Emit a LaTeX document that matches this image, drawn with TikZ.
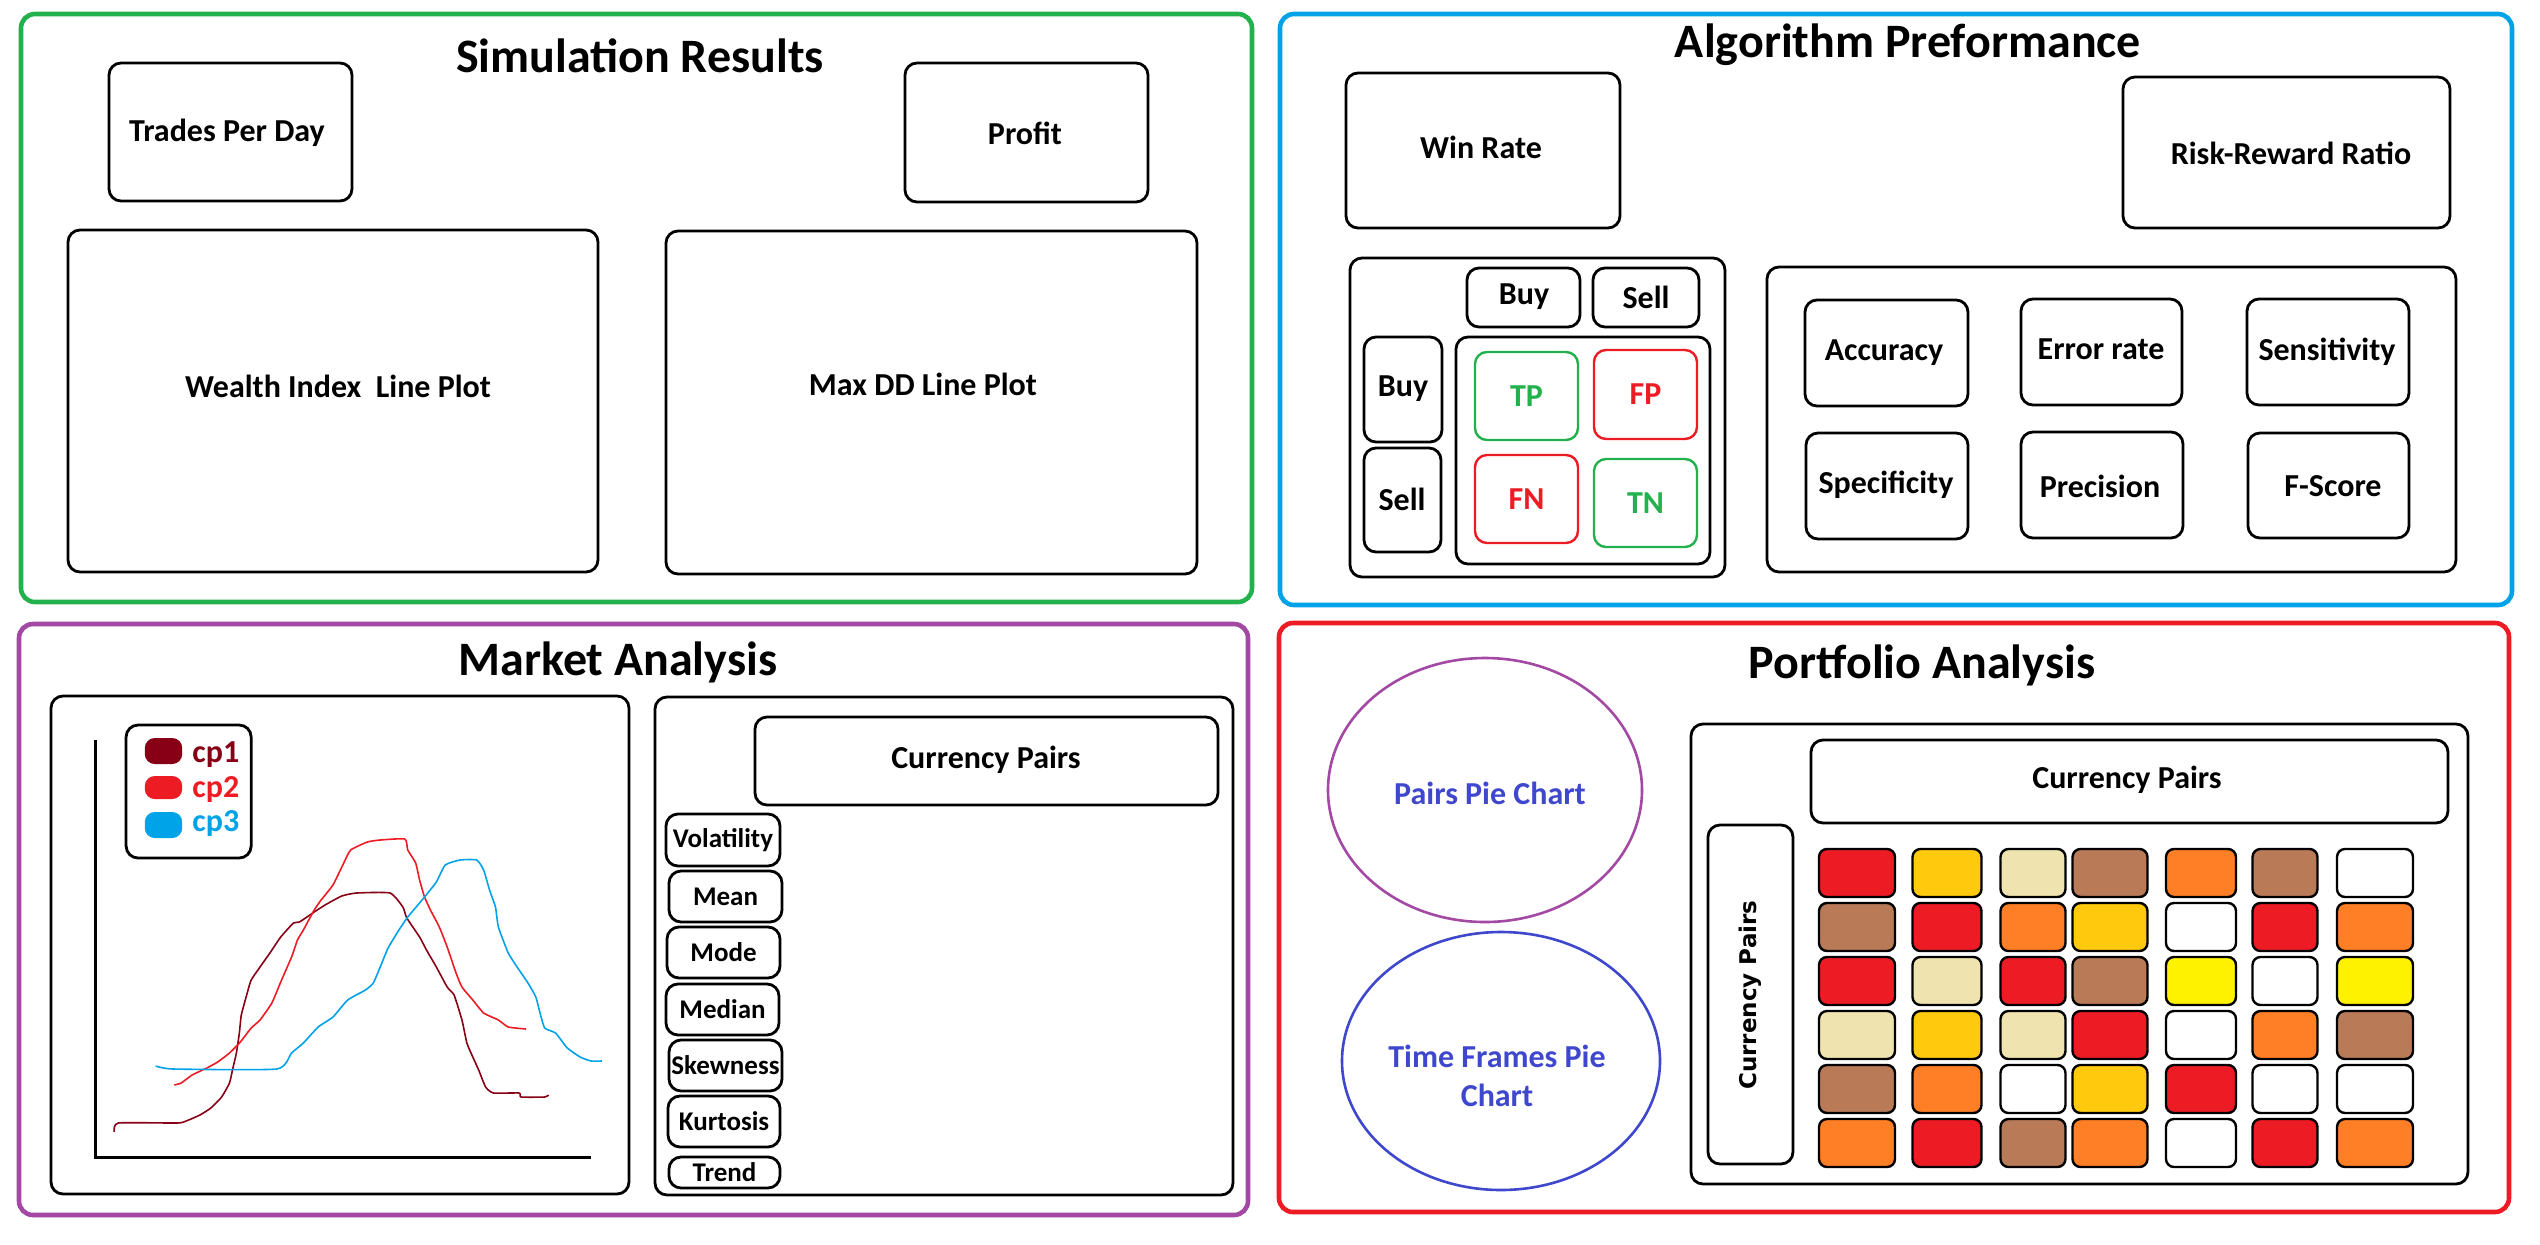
\documentclass[tikz,border=0pt]{standalone}
\usepackage{fontspec}
\setmainfont{Carlito}
\newfontfamily\widesans{DejaVu Sans}
\definecolor{pgreen}{HTML}{22B14C}
\definecolor{pblue}{HTML}{00A2E8}
\definecolor{ppurple}{HTML}{A349A4}
\definecolor{pred}{HTML}{ED1C24}
\definecolor{pdarkred}{HTML}{880015}
\definecolor{porange}{HTML}{FF7F27}
\definecolor{pgold}{HTML}{FFC90E}
\definecolor{pbeige}{HTML}{EFE4B0}
\definecolor{pbrown}{HTML}{B97A57}
\definecolor{pyellow}{HTML}{FFF200}
\definecolor{pindigo}{HTML}{3F48CC}
\newcommand{\cellx}{{1857,1947,2033,2110,2201,2285,2375}}
\newcommand{\cellw}{{76,69,65,75,70,65,76}}

\begin{document}
\begin{tikzpicture}[x=0.5pt,y=-0.5pt,
    panel/.style={line width=2.3pt,rounded corners=7pt},
    cbox/.style={draw,line width=1.4pt,rounded corners=6pt},
    heading/.style={font=\fontsize{24}{29}\selectfont\bfseries,anchor=base,inner sep=0pt},
    lbl/.style={font=\fontsize{16}{19.5}\selectfont\bfseries,inner sep=0pt},
    stat/.style={font=\fontsize{13.5}{16}\selectfont\bfseries,inner sep=0pt},
    cell/.style={draw,line width=1.2pt,rounded corners=4pt},
    curve/.style={line width=0.8pt,line join=round}]
  \fill[white] (0,0) rectangle (2540,1244);

  \draw[panel,pgreen] (21,14) rectangle (1252,602);
  \draw[panel,pblue] (1280,14) rectangle (2512,605);
  \draw[panel,ppurple] (19,624) rectangle (1248,1215);
  \draw[panel,pred] (1279,623) rectangle (2509,1212);

  \node[heading] (simtitle) at (640,72) {Simulation Results};
  \node[heading] (algotitle) at (1908,57) {Algorithm Preformance};
  \node[heading] (markettitle) at (618,675) {Market Analysis};
  \node[heading] (portfoliotitle) at (1922,678) {Portfolio Analysis};

  % boxes with a label
  \foreach \nm/\txt/\xa/\ya/\xb/\yb/\tx/\ty in {
      trades/Trades Per Day/109/63/352/201/227/133,
      profit/Profit/905/63/1148/202/1025/133,
      wealth/Wealth Index~~Line Plot/68/230/598/572/338/386,
      maxdd/Max DD Line Plot/666/231/1197/574/923/384,
      winrate/Win Rate/1346/73/1620/228/1481/147,
      rrr/Risk-Reward Ratio/2123/77/2450/228/2291/153,
      buytop/Buy/1467/268/1580/327/1524/297,
      selltop/Sell/1593/268/1699/327/1646/297,
      buyleft/Buy/1364/337/1442/442/1403/389,
      sellleft/Sell/1364/448/1441/552/1402/499,
      acc/Accuracy/1805/300/1968/406/1884/353,
      err/Error rate/2021/299/2182/405/2101/349,
      sens/Sensitivity/2247/299/2409/405/2327/352,
      spec/Specificity/1806/433/1968/539/1886/485,
      prec/Precision/2021/432/2183/538/2100/486,
      fscore/F-Score/2248/433/2409/538/2333/486,
      mktpairs/Currency Pairs/755/717/1218/805/986/760,
      colpairs/Currency Pairs/1811/740/2448/823/2127/780} {
    \draw[cbox] (\xa,\ya) rectangle (\xb,\yb);
    \node[lbl] (\nm) at (\tx,\ty) {\txt};
  }
  \draw[cbox] (1350,258) rectangle (1725,577);
  \draw[cbox] (1456,337) rectangle (1710,564);
  \draw[cbox] (1767,267) rectangle (2456,572);

  \foreach \nm/\txt/\clr/\xa/\ya/\xb/\yb in {tp/TP/pgreen/1475/352/1578/440,
      fp/FP/pred/1594/350/1697/439, fn/FN/pred/1475/455/1578/543,
      tn/TN/pgreen/1594/459/1697/547} {
    \draw[cbox,line width=1.2pt,draw=\clr] (\xa,\ya) rectangle (\xb,\yb);
    \node[lbl,text=\clr] (\nm) at ({(\xa+\xb)/2},{(\ya+\yb)/2}) {\txt};
  }

  % market chart
  \draw[cbox] (51,696) rectangle (629,1194);
  \draw[line width=1.5pt] (95,740) |- (591,1157);
  \begin{scope}[x=0.4925pt]
    \draw[cbox] (128,725) rectangle (255,858);
    \foreach \nm/\clr/\ya/\yb/\yt in {cp1/pdarkred/738/764/762, cp2/pred/776/799/797, cp3/pblue/812/838/831} {
      \fill[\clr,rounded corners=5pt] (147,\ya) rectangle (185,\yb);
      \node[lbl,text=\clr,anchor=base west] (\nm) at (195,\yt) {\nm};
    }
    \draw[curve,pdarkred] plot[smooth,tension=0.3] coordinates {(116,1132) (120,1123) (180,1123)
      (189,1121) (203,1115) (214,1108) (225,1097) (233,1083) (236,1070) (240,1053) (243,1033)
      (245,1015) (251,993) (255,980) (264,967) (274,953) (285,937) (298,923) (304,922) (319,912)
      (330,905) (347,896) (362,893) (396,893) (409,907) (413,918) (426,937) (433,950) (443,967)
      (454,987) (461,995) (469,1020) (474,1043) (480,1057) (486,1070) (493,1087) (501,1093)
      (527,1093) (529,1097) (553,1097) (557,1095)};
    \draw[curve,pred] plot[smooth,tension=0.3] coordinates {(177,1085) (184,1083) (195,1075)
      (210,1068) (221,1062) (233,1053) (244,1042) (255,1028) (264,1020) (276,1003) (285,982)
      (296,957) (302,940) (308,930) (319,910) (326,900) (338,885) (349,863) (356,850) (373,842)
      (386,840) (411,839) (414,850) (422,863) (426,880) (431,897) (437,910) (446,927) (454,947)
      (463,973) (469,987) (480,1000) (491,1013) (506,1020) (516,1027) (534,1029)};
    \draw[curve,pblue] plot[smooth,tension=0.3] coordinates {(158,1066) (176,1069) (281,1069)
      (296,1053) (308,1043) (323,1027) (338,1017) (353,1000) (371,990) (379,983) (386,967)
      (394,948) (405,930) (414,917) (431,897) (443,882) (452,865) (467,860) (484,860) (491,870)
      (497,890) (503,907) (506,927) (516,953) (525,967) (536,983) (544,997) (548,1012) (553,1028)
      (564,1033) (576,1048) (589,1057) (600,1061) (611,1061)};
  \end{scope}

  % market statistics
  \draw[cbox] (655,697) rectangle (1233,1195);
  \foreach \nm/\txt/\xa/\ya/\xb/\yb in {vol/Volatility/666/814/780/866,
      mean/Mean/669/871/782/922, mode/Mode/667/927/780/978,
      median/Median/666/984/779/1035, skew/Skewness/669/1040/782/1091,
      kurt/Kurtosis/668/1096/780/1147, trend/Trend/669/1157/780/1188} {
    \draw[cbox,rounded corners=6pt] (\xa,\ya) rectangle (\xb,\yb);
    \node[stat] (\nm) at ({(\xa+\xb)/2},{(\ya+\yb)/2}) {\txt};
  }

  % portfolio
  \draw[ppurple,line width=1.3pt] (1485,790) ellipse (157 and 132);
  \draw[pindigo,line width=1.3pt] (1501,1061) ellipse (159 and 129);
  \node[lbl,pindigo] (pairspie) at (1490,793) {Pairs Pie Chart};
  \node[lbl,pindigo,align=center] (framespie) at (1497,1076) {Time Frames Pie\\Chart};
  \draw[cbox] (1691,724) rectangle (2468,1184);
  \draw[cbox] (1708,825) rectangle (1793,1164);
  \node[font=\widesans\fontsize{11.5}{14}\selectfont\bfseries,rotate=90,inner sep=0pt] (rowpairs) at (1750,995) {Currency Pairs};
  \foreach \row [count=\r] in {{pred,pgold,pbeige,pbrown,porange,pbrown,white},
      {pbrown,pred,porange,pgold,white,pred,porange},
      {pred,pbeige,pred,pbrown,pyellow,white,pyellow},
      {pbeige,pgold,pbeige,pred,white,porange,pbrown},
      {pbrown,porange,white,pgold,pred,white,white},
      {porange,pred,pbrown,porange,white,pred,porange}} {
    \foreach[count=\k,evaluate={\cellx[\k-1]} as \cx,evaluate={\cellw[\k-1]/2} as \hw,
        evaluate={873+54*(\r-1)} as \cy] \clr in \row {
      \draw[cell,fill=\clr] (\cx-\hw,\cy-24) rectangle (\cx+\hw,\cy+24);
    }
  }
\end{tikzpicture}
\end{document}
